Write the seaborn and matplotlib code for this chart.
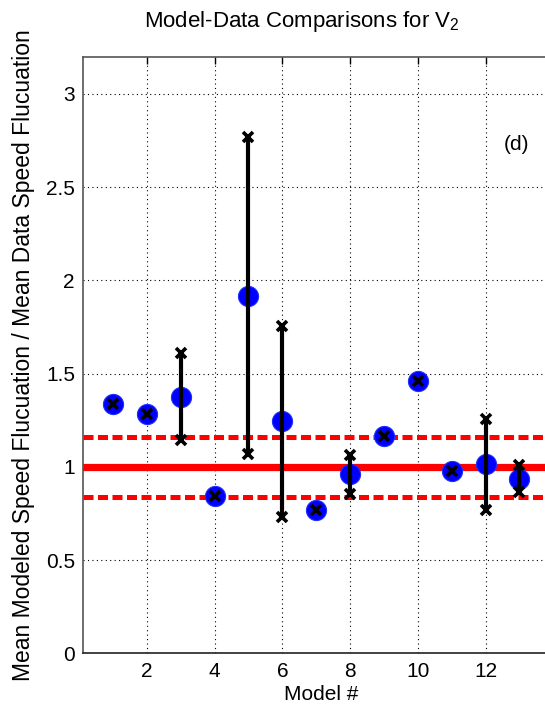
import numpy as np
import pandas as pd
import matplotlib
matplotlib.use("Agg")
import matplotlib.pyplot as plt
import seaborn as sns

# Model index, mean ratio, and min/max range of each model
models = [1, 2, 3, 4, 5, 6, 7, 8, 9, 10, 11, 12, 13]
mean_ratio = [1.336, 1.282, 1.375, 0.845, 1.916, 1.246, 0.771, 0.961, 1.168, 1.459, 0.978, 1.014, 0.934]
low_ratio = [1.336, 1.282, 1.143, 0.845, 1.071, 0.732, 0.771, 0.857, 1.168, 1.459, 0.978, 0.768, 0.866]
high_ratio = [1.336, 1.282, 1.610, 0.845, 2.771, 1.754, 0.771, 1.062, 1.168, 1.459, 0.978, 1.259, 1.009]

# Reference level and its uncertainty band
ref_level = 1.0
band_low = 0.839
band_high = 1.162

x_ticks = [2, 4, 6, 8, 10, 12]
y_ticks = [0, 0.5, 1, 1.5, 2, 2.5, 3]
y_tick_labels = ["0", "0.5", "1", "1.5", "2", "2.5", "3"]

sns.set_style("white")
plt.rcParams["font.family"] = ["Liberation Sans", "DejaVu Sans"]
plt.rcParams["text.color"] = "black"
plt.rcParams["axes.labelcolor"] = "black"
plt.rcParams["mathtext.fontset"] = "custom"
plt.rcParams["mathtext.rm"] = "Liberation Sans"
plt.rcParams["mathtext.it"] = "Liberation Sans"

df = pd.DataFrame({"model": models, "ratio": mean_ratio,
                   "lo": low_ratio, "hi": high_ratio})

fig = plt.figure(figsize=(5.45, 7.13), dpi=100)
ax = fig.add_axes([0.1528, 0.0837, 0.8747, 0.8368])
ax.set_xlim(0.12, 14.2)
ax.set_ylim(0, 3.2)

# Reference lines
ax.axhline(ref_level, color="#ff0000", lw=5.2, zorder=2)
for yb in (band_low, band_high):
    ax.axhline(yb, color="#ff0000", lw=3.6, ls=(0, (2.0, 0.9)), zorder=2)

# Mean ratios
sns.scatterplot(data=df, x="model", y="ratio", ax=ax, s=210, color="#0000ff",
                edgecolor="#2030ff", linewidth=0.8, zorder=3, legend=False)

# Range bars and their end markers
ranged = df[df["hi"] > df["lo"]]
ax.vlines(ranged["model"], ranged["lo"], ranged["hi"], color="black", lw=3.0, zorder=4)
ax.plot(df["model"], df["lo"], ls="none", marker="x", ms=6.5, mew=2.6,
        color="black", zorder=5)
ax.plot(ranged["model"], ranged["hi"], ls="none", marker="x", ms=6.5, mew=2.6,
        color="black", zorder=5)

ax.set_xticks(x_ticks)
ax.set_yticks(y_ticks)
ax.set_yticklabels(y_tick_labels)
ax.tick_params(direction="in", length=5, width=1, labelsize=15, colors="black",
               labelcolor="black", top=True, right=False, pad=6)
ax.grid(True, color="black", ls=(0, (1, 3)), lw=0.8)
ax.set_axisbelow(True)
for side in ("left", "bottom", "top"):
    ax.spines[side].set_color("#555555")
    ax.spines[side].set_linewidth(1.2)
ax.spines["bottom"].set_color("#222222")
ax.spines["right"].set_visible(False)

ax.set_xlabel("Model #", fontsize=15, labelpad=3, color="black")
ax.set_ylabel("Mean Modeled Speed Flucuation / Mean Data Speed Flucuation",
              fontsize=16.5, labelpad=8, color="black")
fig.text(302 / 545, 1 - 22 / 713, r"Model-Data Comparisons for V$_{2}$",
         fontsize=16, ha="center", va="center", color="black")
ax.text(12.91, 2.73, "(d)", fontsize=15, ha="center", va="center", color="black")

fig.savefig("out.png", dpi=100)
